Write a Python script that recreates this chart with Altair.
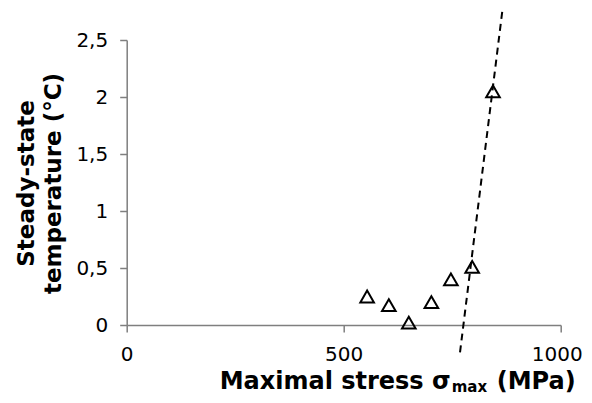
import altair as alt
import pandas as pd

# data
stress = [554, 604, 650, 702, 747, 796, 844]
temp = [0.25, 0.175, 0.02, 0.20, 0.40, 0.51, 2.05]
trend_x = [768, 866]
trend_y = [-0.24, 2.77]
x_ticks = [0, 500, 1000]
y_ticks = [0, 0.5, 1, 1.5, 2, 2.5]

pts = pd.DataFrame({"x": stress, "y": temp})
trend = pd.DataFrame({"x": trend_x, "y": trend_y})

W, H = 434, 285
FONT = "DejaVu Sans"
AX = "#7f7f7f"

xscale = alt.Scale(domain=[0, 1000], nice=False, zero=False)
yscale = alt.Scale(domain=[0, 2.5], nice=False, zero=False)

xaxis = alt.Axis(values=x_ticks, title=None, grid=False, domainColor=AX,
                 tickColor=AX, tickSize=7, labelFont=FONT, labelFontSize=20,
                 labelColor="black", labelPadding=12, domainWidth=1.5, tickWidth=1.5,
                 format="d", labelFlush=False, labelOverlap=False,
                 labelOffset={"condition": {"test": "datum.value == 1000", "value": -4},
                              "value": 0})
yaxis = alt.Axis(values=y_ticks, grid=False, domainColor=AX,
                 tickColor=AX, tickSize=7, labelFont=FONT, labelFontSize=20,
                 labelColor="black", labelPadding=12, domainWidth=1.5, tickWidth=1.5,
                 labelExpr="replace(format(datum.value,'~g'),'.',',')",
                 labelOverlap=False,
                 title=["Steady-state", "temperature (°C)"],
                 titleFont=FONT, titleFontSize=23, titleFontWeight="bold",
                 titleColor="black", titleLineHeight=27, titleAngle=270,
                 titleAlign="center", titleBaseline="alphabetic",
                 titleX=-93, titleY=143)

points = alt.Chart(pts).mark_point(shape="triangle-up", filled=False, size=185,
                                   strokeWidth=2, color="black", opacity=1).encode(
    x=alt.X("x:Q", scale=xscale, axis=xaxis),
    y=alt.Y("y:Q", scale=yscale, axis=yaxis),
)

line = alt.Chart(trend).mark_line(color="black", strokeWidth=2, strokeDash=[7, 5],
                                  clip=False).encode(
    x=alt.X("x:Q", scale=xscale),
    y=alt.Y("y:Q", scale=yscale),
)

tdf = pd.DataFrame({"a": [0]})
t1 = alt.Chart(tdf).mark_text(text="Maximal stress σ", font=FONT, fontSize=24,
                              fontWeight="bold", align="right", baseline="alphabetic",
                              color="black").encode(x=alt.value(324), y=alt.value(349))
t2 = alt.Chart(tdf).mark_text(text="max", font=FONT, fontSize=15,
                              fontWeight="bold", align="left", baseline="alphabetic",
                              color="black").encode(x=alt.value(325), y=alt.value(352))
t3 = alt.Chart(tdf).mark_text(text="(MPa)", font=FONT, fontSize=24,
                              fontWeight="bold", align="left", baseline="alphabetic",
                              color="black").encode(x=alt.value(370), y=alt.value(349))

chart = alt.layer(line, points, t1, t2, t3).properties(
    width=W, height=H,
    autosize=alt.AutoSizeParams(type="none"),
    padding={"left": 118.7, "top": 32, "right": 23.3, "bottom": 70},
).configure_view(stroke=None)

chart.save("out.html", embed_options={"renderer": "svg", "actions": False})
